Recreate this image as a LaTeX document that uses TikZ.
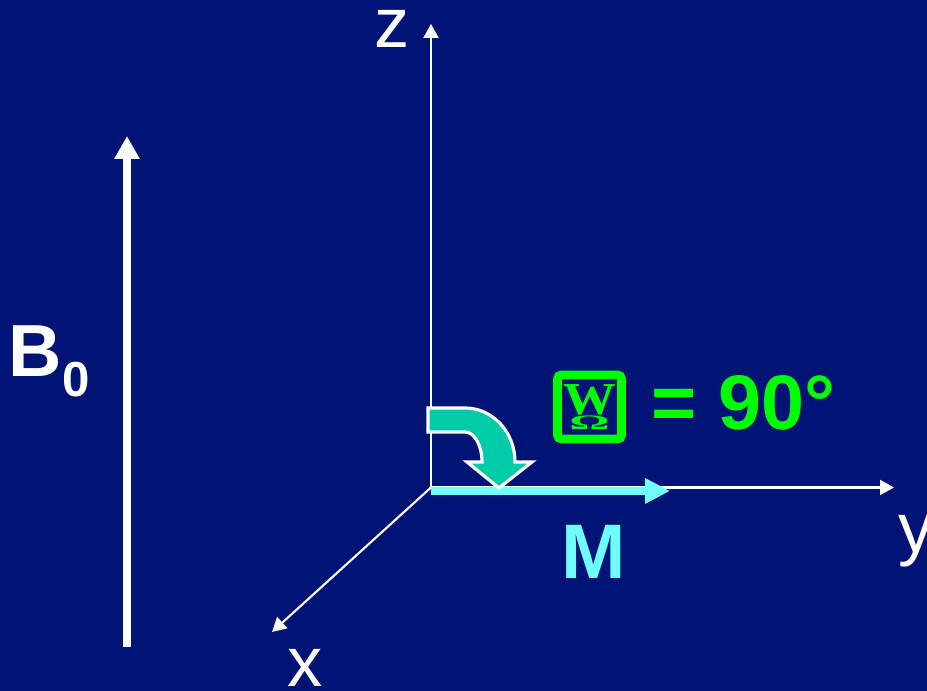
\documentclass[tikz,border=0pt]{standalone}
\usepackage{fontspec}
\setmainfont{Liberation Sans}
\newfontfamily\glyphfont{Liberation Serif}
\definecolor{mrnavy}{RGB}{0,20,117}
\definecolor{mrcyan}{RGB}{110,255,255}
\definecolor{mrteal}{RGB}{0,204,170}
\definecolor{mrgreen}{RGB}{0,255,0}
\usetikzlibrary{arrows.meta,positioning}

\begin{document}
\begin{tikzpicture}[axis/.style={white,line width=0.6pt,-{Triangle[length=0.14cm,width=0.15cm]}},
  axlbl/.style={white,inner sep=0pt,font=\fontsize{20}{24}\selectfont}]
  \path[use as bounding box,fill=mrnavy] (0,0) rectangle (9.27,6.91);
  % axes
  \coordinate (O) at (4.31,2.035);
  \coordinate (zTip) at (4.31,6.67);
  \coordinate (yTip) at (8.94,2.035);
  \coordinate (xTip) at (2.72,0.59);
  \draw[axis] (O)--(zTip);
  \draw[axis] (O)--(yTip);
  \draw[axis] (O)--(xTip);
  \node[axlbl] (zl) at (3.925,6.62) {z};
  \node[axlbl,anchor=north west] (yl) at (8.98,1.76) {y};
  \node[axlbl] (xl) at (3.055,0.235) {x};
  % static field
  \coordinate (bBot) at (1.27,0.44);
  \coordinate (bTop) at (1.27,5.55);
  \draw[white,line width=2.3pt,-{Triangle[length=0.23cm,width=0.24cm]}] (bBot)--(bTop);
  \node[white,inner sep=0pt,anchor=base west] (b0) at (0.08,3.14)
    {{\fontsize{21}{25}\selectfont\bfseries B}\raisebox{-0.2cm}{\fontsize{14}{17}\selectfont\bfseries 0}};
  % magnetisation
  \coordinate (mStart) at (4.31,2.0);
  \coordinate (mTip) at (6.70,2.0);
  \draw[mrcyan,line width=2pt,-{Triangle[length=0.25cm,width=0.24cm]}] (mStart)--(mTip);
  \node[mrcyan,inner sep=0pt,anchor=base,font=\fontsize{22}{26}\selectfont\bfseries] (ml) at (5.935,1.12) {M};
  % flip
  \draw[white,fill=mrteal,line width=0.9pt,line join=miter] (4.28,2.83)--(4.65,2.83)
    arc[start angle=90,end angle=0,x radius=0.50,y radius=0.54]
    --(5.32,2.29)--(4.99,2.03)--(4.67,2.29)--(4.82,2.29)
    arc[start angle=0,end angle=90,x radius=0.17,y radius=0.30]
    --(4.28,2.59)--cycle;
  \node[draw=mrgreen,text=mrgreen,line width=2.5pt,rounded corners=0.04cm,minimum width=0.64cm,minimum height=0.64cm,inner sep=0pt,font=\glyphfont\bfseries] (alpha) at (5.895,2.84)
    {\shortstack{\scalebox{1.15}[1.0]{\fontsize{13}{13}\selectfont W}\\[-3pt]\scalebox{1.1}[0.45]{\fontsize{13}{13}\selectfont Ω}}};
  \node[mrgreen,inner sep=0pt,anchor=base west,font=\fontsize{22}{26}\selectfont\bfseries] (ang) at (6.51,2.61) {= 90°};
\end{tikzpicture}
\end{document}
